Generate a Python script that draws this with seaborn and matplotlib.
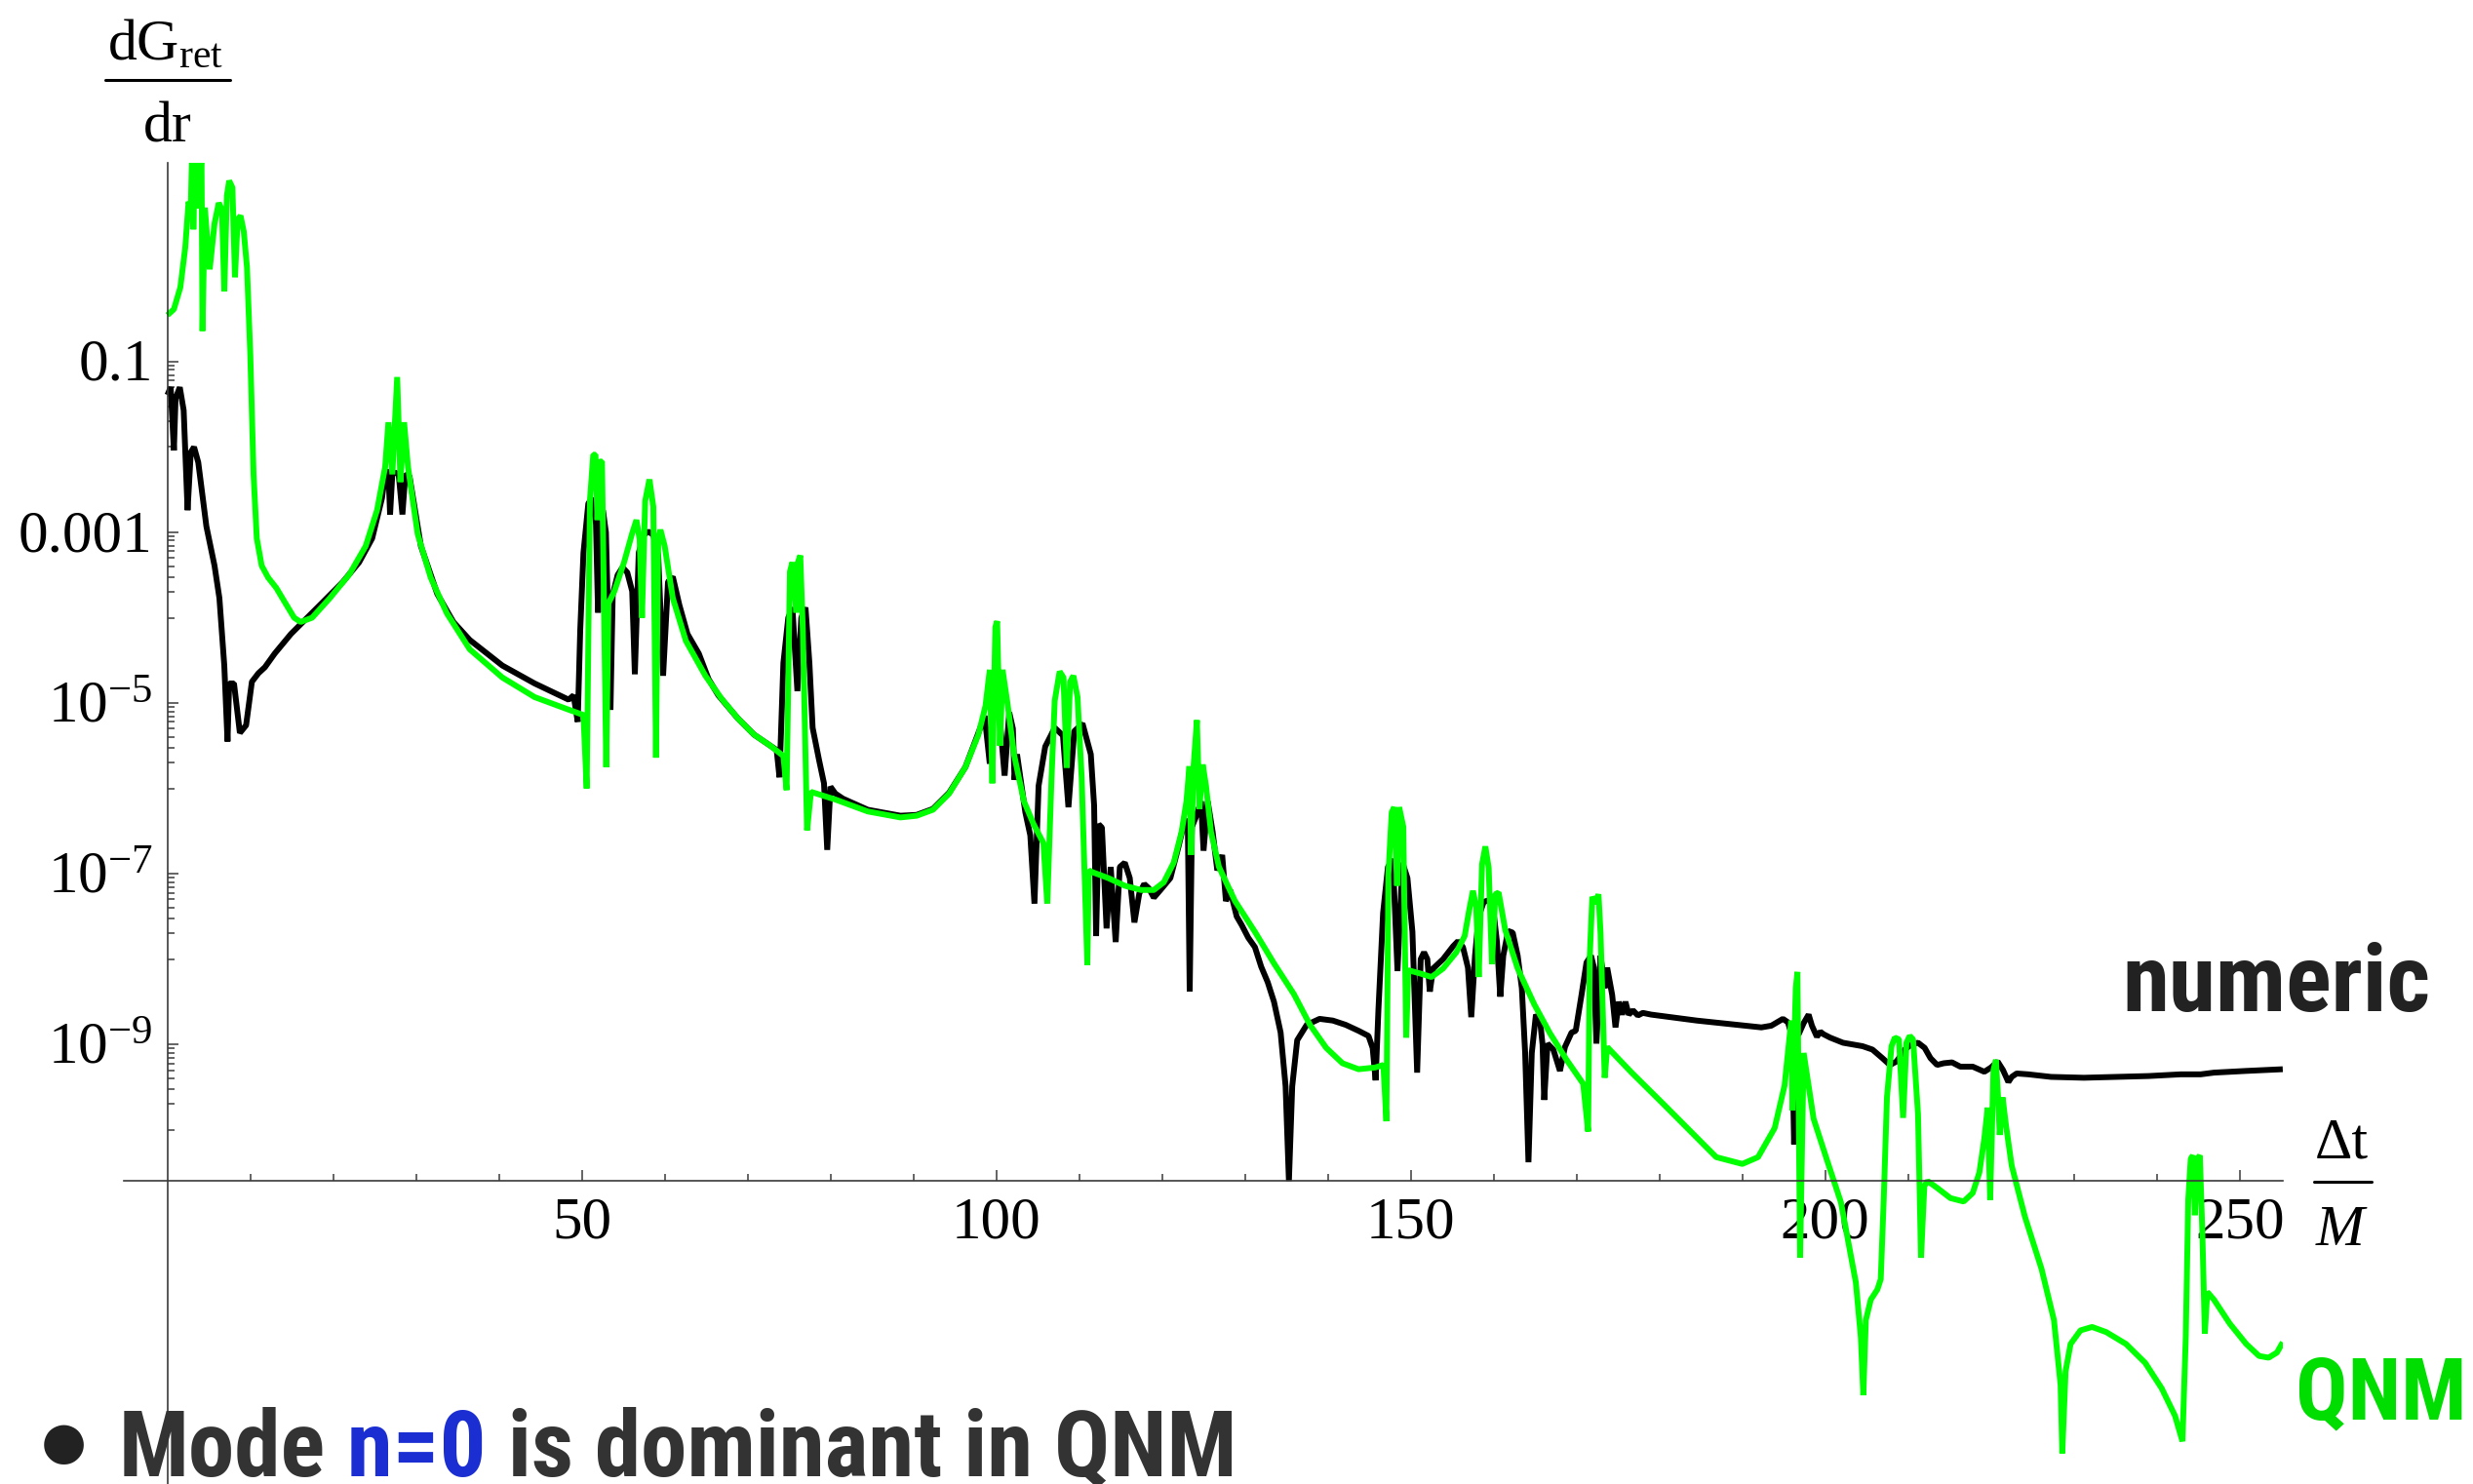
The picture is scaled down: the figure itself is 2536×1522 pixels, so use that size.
import numpy as np
import pandas as pd
import matplotlib
matplotlib.use("Agg")
import matplotlib.pyplot as plt
import seaborn as sns
from matplotlib import font_manager
from matplotlib.lines import Line2D
from matplotlib.ticker import NullFormatter
from matplotlib.transforms import ScaledTranslation

# ---------------- data (time Δt/M, log10 of dG_ret/dr) ----------------
numeric_points = [
    (0.0,-1.39),(0.39,-1.30),(0.78,-2.04),(0.98,-1.43),(1.49,-1.30),(1.96,-1.57),(2.43,-2.74),(2.82,-2.06),(3.21,-2.00),(3.72,-2.18),
    (4.70,-2.93),(5.68,-3.39),(6.27,-3.77),(6.86,-4.56),(7.25,-5.45),(7.45,-4.77),(8.03,-4.77),(8.74,-5.35),(9.49,-5.26),(10.19,-4.75),
    (10.98,-4.65),(11.76,-4.58),(12.94,-4.42),(14.9,-4.19),(16.86,-4.00),(18.82,-3.81),(21.17,-3.58),(23.13,-3.35),(24.7,-3.07),(25.88,-2.60),
    (26.27,-2.32),(26.66,-2.27),(26.86,-2.79),(27.13,-2.32),(27.5,-2.30),(27.9,-2.32),(28.35,-2.79),(28.7,-2.32),(29.2,-2.34),(30.58,-3.16),
    (32.55,-3.72),(34.5,-4.05),(36.47,-4.26),(40.4,-4.56),(44.3,-4.77),(48.4,-4.96),(49.0,-4.91),(49.5,-5.22),(49.8,-4.15),(50.19,-3.24),
    (50.78,-2.66),(51.3,-2.60),(51.7,-2.90),(51.95,-3.94),(52.2,-2.80),(52.54,-2.74),(52.9,-3.00),(53.45,-5.08),(53.72,-3.73),(54.31,-3.50),
    (54.9,-3.41),(55.48,-3.47),(56.07,-3.69),(56.39,-4.66),(56.86,-3.24),(57.45,-3.03),(58.03,-2.99),(58.62,-3.03),(59.21,-3.27),(59.8,-4.68),
    (60.39,-3.58),(60.97,-3.52),(61.76,-3.85),(62.74,-4.19),(64.11,-4.42),(65.29,-4.72),(66.47,-4.91),(68.82,-5.18),(70.78,-5.37),(72.74,-5.50),
    (73.5,-5.55),(73.84,-5.87),(74.31,-4.53),(74.9,-4.00),(75.4,-3.88),(76.0,-4.86),(76.47,-4.00),(76.98,-3.88),(77.45,-4.53),(77.84,-5.29),
    (78.23,-5.48),(78.62,-5.67),(79.21,-5.94),(79.6,-6.72),(79.99,-5.98),(80.58,-6.06),(81.5,-6.12),(84.5,-6.25),(88.43,-6.32),(90.39,-6.31),
    (92.35,-6.24),(94.31,-6.05),(96.27,-5.75),(97.84,-5.35),(98.6,-5.15),(99.21,-5.71),(99.6,-5.05),(100.3,-5.05),(101.0,-5.85),(101.56,-5.11),
    (102.0,-5.30),(102.2,-5.90),(102.5,-5.60),(103.5,-6.28),(104.1,-6.55),(104.6,-7.35),(105.1,-5.97),(105.9,-5.51),(107.05,-5.29),(108.04,-5.38),
    (108.7,-6.22),(109.4,-5.33),(110.4,-5.24),(111.4,-5.60),(111.8,-6.20),(112.04,-7.73),(112.35,-6.42),(112.74,-6.46),(113.3,-7.64),(113.8,-6.92),
    (114.4,-7.80),(114.9,-6.92),(115.5,-6.87),(116.1,-7.05),(116.66,-7.57),(117.25,-7.23),(117.84,-7.12),(118.4,-7.17),(119.0,-7.28),(119.8,-7.19),
    (121.0,-7.05),(121.96,-6.69),(122.74,-6.37),(123.1,-6.40),(123.33,-8.38),(123.6,-6.45),(124.1,-6.33),(124.7,-6.15),(125.0,-6.73),(125.5,-6.15),
    (126.1,-6.51),(126.66,-6.96),(127.25,-6.78),(127.7,-7.32),(128.2,-7.19),(129.0,-7.50),(129.6,-7.60),(130.4,-7.75),(131.2,-7.86),(131.96,-8.09),
    (132.74,-8.27),(133.5,-8.50),(134.3,-8.86),(134.9,-9.49),(135.3,-10.6),(135.7,-9.49),(136.3,-8.95),(137.45,-8.77),(139.0,-8.70),(140.6,-8.72),
    (142.15,-8.77),(143.7,-8.84),(144.9,-8.90),(145.4,-9.04),(145.76,-9.42),(146.1,-8.59),(146.66,-7.46),(147.25,-6.92),(147.84,-6.83),(148.4,-8.14),
    (149.0,-6.87),(149.6,-7.05),(150.2,-7.68),(150.77,-9.33),(151.2,-8.00),(151.6,-7.92),(152.0,-8.00),(152.3,-8.38),(152.7,-8.11),(153.9,-8.00),
    (155.1,-7.85),(155.7,-7.79),(156.3,-7.86),(156.9,-8.10),(157.3,-8.68),(157.75,-7.96),(158.2,-7.50),(158.8,-7.33),(159.4,-7.31),(160.0,-7.46),
    (160.4,-7.80),(160.8,-8.44),(161.16,-7.96),(161.75,-7.67),(162.3,-7.69),(162.9,-7.96),(163.4,-8.34),(163.8,-9.10),(164.2,-10.38),(164.6,-9.10),
    (165.1,-8.65),(165.6,-8.72),(165.9,-9.00),(166.1,-9.65),(166.5,-8.99),(167.2,-9.06),(168.0,-9.31),(168.6,-9.03),(169.4,-8.86),(169.9,-8.84),
    (170.6,-8.42),(171.2,-8.04),(171.75,-7.96),(172.1,-8.10),(172.4,-8.99),(172.9,-7.96),(173.4,-8.34),(173.7,-8.10),(174.3,-8.42),(174.7,-8.80),
    (175.1,-8.50),(175.5,-8.65),(175.9,-8.50),(176.3,-8.65),(176.8,-8.60),(177.4,-8.66),(178.0,-8.63),(179.0,-8.65),(184.5,-8.72),(188.4,-8.76),
    (192.3,-8.80),(193.5,-8.78),(194.9,-8.70),(195.5,-8.74),(196.0,-8.90),(196.25,-10.17),(196.6,-8.90),(196.85,-8.87),(197.4,-8.75),(198.0,-8.65),
    (198.4,-8.78),(199.0,-8.91),(199.4,-8.85),(199.8,-8.88),(200.6,-8.92),(202.15,-8.98),(204.5,-9.02),(205.7,-9.06),(206.9,-9.16),(207.8,-9.24),
    (208.6,-9.20),(209.6,-9.06),(210.4,-9.00),(211.2,-8.98),(212.0,-9.04),(212.7,-9.16),(213.5,-9.24),(214.3,-9.22),(215.3,-9.21),(216.3,-9.26),
    (217.8,-9.26),(219.2,-9.32),(220.0,-9.27),(220.8,-9.20),(221.45,-9.30),(222.1,-9.44),(222.5,-9.38),(223.1,-9.34),(224.5,-9.35),(227.25,-9.38),
    (231.2,-9.39),(235.1,-9.38),(239.0,-9.37),(242.9,-9.35),(245.3,-9.35),(246.9,-9.33),(250.8,-9.31),(255.2,-9.29),
]

qnm_points = [
    (0.0,-0.455),(0.78,-0.385),(1.56,-0.128),(2.15,0.338),(2.55,0.875),(2.82,0.80),(3.0,1.6),(3.13,0.55),(3.35,1.6),(3.55,0.80),
    (3.75,1.6),(3.95,0.80),(4.1,1.6),(4.23,-0.64),(4.51,0.805),(5.1,0.082),(5.68,0.618),(6.19,0.86),(6.58,0.78),(6.86,-0.175),
    (7.17,0.945),(7.45,1.12),(7.84,1.04),(8.15,-0.01),(8.47,0.665),(8.82,0.71),(9.21,0.525),(9.6,0.105),(10.0,-0.92),(10.39,-2.32),
    (10.78,-3.07),(11.37,-3.39),(12.15,-3.53),(13.13,-3.65),(14.11,-3.81),(15.29,-4.00),(16.07,-4.05),(17.45,-4.00),(19.6,-3.77),(21.96,-3.49),
    (23.92,-3.16),(25.29,-2.74),(26.27,-2.23),(26.66,-1.71),(27.13,-2.32),(27.72,-1.18),(28.11,-2.41),(28.55,-1.71),(29.02,-2.23),(30.19,-3.02),
    (31.76,-3.53),(33.72,-3.95),(36.47,-4.37),(40.4,-4.70),(44.3,-4.93),(48.2,-5.07),(50.19,-5.14),(50.58,-6.00),(50.97,-2.63),(51.37,-2.09),
    (51.64,-2.09),(51.88,-2.855),(52.15,-2.17),(52.43,-2.17),(52.94,-5.75),(53.21,-3.83),(53.92,-3.69),(55.09,-3.35),(56.07,-3.01),(56.58,-2.855),
    (56.97,-3.08),(57.25,-4.00),(57.64,-2.63),(58.15,-2.38),(58.62,-2.70),(58.94,-5.64),(59.21,-3.08),(59.48,-2.97),(59.99,-3.16),(60.97,-3.77),
    (62.54,-4.27),(64.9,-4.68),(66.86,-4.95),(68.82,-5.18),(70.78,-5.37),(72.74,-5.50),(74.31,-5.62),(74.7,-6.02),(75.1,-3.46),(75.4,-3.35),
    (75.88,-3.94),(76.07,-3.35),(76.35,-3.27),(76.66,-4.15),(77.17,-6.49),(77.64,-6.04),(80.58,-6.13),(84.5,-6.27),(88.43,-6.34),(90.39,-6.32),
    (92.35,-6.25),(94.31,-6.06),(96.27,-5.75),(97.84,-5.37),(98.7,-5.03),(99.21,-4.61),(99.52,-5.94),(99.88,-4.11),(100.1,-4.04),(100.45,-5.50),
    (100.75,-4.61),(101.37,-5.02),(102.15,-5.61),(103.33,-6.15),(104.5,-6.42),(105.68,-6.64),(106.15,-7.35),(106.66,-5.88),(107.05,-4.97),(107.64,-4.63),
    (108.1,-4.70),(108.5,-5.76),(108.9,-4.75),(109.3,-4.68),(109.8,-4.93),(110.3,-5.88),(110.98,-8.07),(111.17,-6.96),(111.56,-6.98),(113.5,-7.05),
    (115.5,-7.14),(117.45,-7.19),(119.0,-7.19),(120.2,-7.10),(121.4,-6.87),(122.35,-6.51),(122.94,-6.15),(123.3,-5.74),(123.5,-6.78),(123.8,-5.74),
    (124.2,-5.20),(124.5,-6.24),(124.9,-5.72),(125.3,-5.97),(125.9,-6.51),(126.86,-6.92),(128.8,-7.32),(131.2,-7.68),(133.5,-8.05),(135.9,-8.41),
    (137.84,-8.77),(139.8,-9.04),(141.76,-9.22),(143.7,-9.29),(145.7,-9.27),(146.7,-9.24),(147.06,-9.90),(147.3,-7.01),(147.7,-6.28),(148.0,-6.22),
    (148.35,-7.14),(148.6,-6.22),(149.1,-6.45),(149.45,-8.92),(149.7,-8.13),(151.2,-8.17),(152.5,-8.21),(153.9,-8.11),(155.5,-7.92),(156.5,-7.73),
    (157.04,-7.43),(157.5,-7.20),(157.9,-7.39),(158.2,-8.21),(158.6,-6.89),(159.0,-6.68),(159.4,-6.93),(159.8,-8.06),(160.2,-7.24),(160.6,-7.22),
    (161.4,-7.66),(162.9,-8.11),(164.9,-8.53),(166.8,-8.87),(168.8,-9.18),(170.8,-9.46),(171.4,-10.02),(171.6,-7.96),(171.9,-7.27),(172.3,-7.35),
    (172.65,-7.24),(172.9,-7.70),(173.4,-9.39),(173.7,-9.03),(176.65,-9.33),(180.6,-9.71),(184.5,-10.09),(186.85,-10.32),(190.0,-10.40),(191.9,-10.32),
    (193.9,-9.98),(195.1,-9.48),(195.9,-8.72),(196.05,-9.77),(196.45,-8.34),(196.65,-8.15),(196.97,-11.5),(197.4,-9.10),(198.6,-9.87),(200.2,-10.35),
    (201.9,-10.85),(203.7,-11.79),(204.3,-12.43),(204.6,-13.11),(204.9,-12.23),(205.5,-11.99),(206.3,-11.87),(206.7,-11.75),(207.06,-10.82),(207.45,-9.62),
    (208.0,-9.02),(208.4,-8.92),(208.9,-8.94),(209.4,-9.86),(209.8,-8.98),(210.2,-8.90),(210.6,-8.94),(211.2,-9.82),(211.56,-11.5),(211.96,-10.66),
    (212.35,-10.60),(213.5,-10.68),(215.1,-10.80),(216.7,-10.84),(217.8,-10.74),(218.6,-10.50),(219.2,-10.10),(219.6,-9.74),(219.9,-10.82),(220.3,-9.30),
    (220.6,-9.18),(220.9,-9.70),(221.05,-10.06),(221.4,-9.62),(221.8,-9.94),(222.5,-10.42),(224.1,-11.02),(226.1,-11.63),(227.6,-12.23),(228.4,-12.99),
    (228.6,-13.79),(229.0,-12.83),(229.6,-12.51),(230.8,-12.35),(232.2,-12.31),(233.9,-12.37),(236.3,-12.51),(238.6,-12.73),(240.6,-13.03),(242.2,-13.35),
    (243.1,-13.65),(243.5,-12.43),(243.8,-10.82),(244.1,-10.34),(244.35,-10.30),(244.6,-11.00),(244.9,-10.34),(245.2,-10.30),(245.5,-11.20),(245.8,-12.39),
    (246.1,-11.90),(246.9,-11.99),(248.8,-12.27),(250.8,-12.51),(252.35,-12.65),(253.5,-12.67),(254.5,-12.61),(255.2,-12.49),
]

x_major_ticks = [50, 100, 150, 200, 250]
x_minor_ticks = [v for v in range(10, 250, 10) if v % 50]
y_label_exponents = [-1, -3, -5, -7, -9]
y_tick_labels = ["0.1", "0.001", r"$10^{-5}$", r"$10^{-7}$", r"$10^{-9}$"]
series_names = ["numeric", "QNM"]

# ---------------- style ----------------
sns.set_theme(style="white")
plt.rcParams["font.family"] = ["Liberation Serif", "DejaVu Serif"]
plt.rcParams["mathtext.fontset"] = "custom"
plt.rcParams["mathtext.rm"] = "Liberation Serif"
plt.rcParams["mathtext.it"] = "Liberation Serif:italic"
plt.rcParams["mathtext.bf"] = "Liberation Serif:bold"

avail = {f.name for f in font_manager.fontManager.ttflist}
bold_family = None
for cand in ["Liberation Sans Narrow", "Roboto Condensed", "Open Sans Condensed", "DejaVu Sans Condensed"]:
    if cand in avail:
        bold_family = cand
        break
size_scale = 1.0
if bold_family is None:
    bold_family = "Liberation Sans"
    size_scale = 0.84

W, H, DPI = 2536, 1522, 100
fig = plt.figure(figsize=(W / DPI, H / DPI), dpi=DPI)
fig.patch.set_facecolor("white")

def fx(px):
    return px / W

def fy(py):
    return 1 - py / H

px_per_unit = 8.5
x0_px = 171.7
t_min, t_max = -5.2, 255.2
left_px = x0_px + t_min * px_per_unit
right_px = x0_px + t_max * px_per_unit
top_px = 167
log_top, log_bottom = 1.33, -14.15
x_axis_log = -10.6

ax = fig.add_axes([fx(left_px), 0, (right_px - left_px) / W, (H - top_px) / H])
ax.set_facecolor("none")

df_num = pd.DataFrame(numeric_points, columns=["t", "log10"])
df_num["value"] = 10.0 ** df_num["log10"]
df_qnm = pd.DataFrame(qnm_points, columns=["t", "log10"])
df_qnm["value"] = 10.0 ** df_qnm["log10"]

line_kw = dict(sort=False, estimator=None, linewidth=4.3, ax=ax,
               solid_joinstyle="bevel", solid_capstyle="butt")
sns.lineplot(data=df_num, x="t", y="value", color="#000000", **line_kw)
sns.lineplot(data=df_qnm, x="t", y="value", color="#00ff00", **line_kw)

ax.set_yscale("log")
ax.set_xlim(t_min, t_max)
ax.set_ylim(10.0 ** log_bottom, 10.0 ** log_top)
ax.set_xlabel("")
ax.set_ylabel("")
ax.grid(False)

axis_color = "#3a3a3a"
for s in ["top", "right"]:
    ax.spines[s].set_visible(False)
ax.spines["left"].set_position(("data", 0))
ax.spines["bottom"].set_position(("data", 10.0 ** x_axis_log))
for s in ["left", "bottom"]:
    ax.spines[s].set_visible(True)
    ax.spines[s].set_color(axis_color)
    ax.spines[s].set_linewidth(1.2)

ax.set_xticks(x_major_ticks)
ax.set_xticklabels([str(v) for v in x_major_ticks])
ax.set_xticks(x_minor_ticks, minor=True)
ax.set_yticks([10.0 ** k for k in y_label_exponents])
ax.set_yticklabels([""] * len(y_label_exponents))
ax.set_yticks([m * 10.0 ** (k - 1) for k in y_label_exponents for m in range(1, 10)], minor=True)
ax.yaxis.set_minor_formatter(NullFormatter())

ax.tick_params(axis="both", which="major", direction="in", length=7.8, width=1.1, color=axis_color)
ax.tick_params(axis="both", which="minor", direction="in", length=5.2, width=1.1, color=axis_color)
ax.tick_params(axis="x", which="both", bottom=True, top=False)
ax.tick_params(axis="y", which="both", left=True, right=False, labelleft=False)
ax.tick_params(axis="x", which="major", pad=11, labelsize=44, labelcolor="black")

# y tick labels (baseline placed just below each tick)
for k, lab in zip(y_label_exponents, y_tick_labels):
    off = ScaledTranslation(-15 / DPI, -19 / DPI, fig.dpi_scale_trans)
    ax.text(0, 10.0 ** k, lab, transform=ax.transData + off, ha="right", va="baseline",
            fontsize=44, color="black")

# axis fraction labels
fig.text(fx(170), fy(61), r"$\mathrm{dG}_{\mathrm{ret}}$", ha="center", va="baseline", fontsize=43, color="black")
fig.add_artist(Line2D([fx(108), fx(236)], [fy(82), fy(82)], color="black", lw=2.2))
fig.text(fx(172), fy(146), "dr", ha="center", va="baseline", fontsize=43, color="black")

fig.text(fx(2401), fy(1188), "Δt", ha="center", va="baseline", fontsize=43, color="black")
fig.add_artist(Line2D([fx(2373), fx(2432)], [fy(1212), fy(1212)], color="black", lw=2.2))
fig.text(fx(2400), fy(1277), "M", ha="center", va="baseline", fontsize=43, style="italic", color="black")

# series labels
fig.text(fx(2176), fy(1037), series_names[0], ha="left", va="baseline", fontsize=70 * size_scale,
         fontweight="bold", family=[bold_family, "DejaVu Sans"], color="#222222")
fig.text(fx(2354), fy(1455), series_names[1], ha="left", va="baseline", fontsize=64 * size_scale,
         fontweight="bold", family=[bold_family, "DejaVu Sans"], color="#00dd00")

# bullet line
fig.text(fx(65), fy(1483), "●", ha="center", va="center", fontsize=68,
         family=["Liberation Sans", "DejaVu Sans"], color="#222222")
bold_kw = dict(fontsize=68.5 * size_scale, fontweight="bold", family=[bold_family, "DejaVu Sans"])
t1 = fig.text(fx(122), fy(1514), "Mode", ha="left", va="baseline", color="#333333", **bold_kw)
t2 = ax.annotate(" n=0", xy=(1, 0), xycoords=t1, ha="left", va="bottom", color="#1a2ed2",
                 annotation_clip=False, **bold_kw)
t3 = ax.annotate(" is dominant in QNM", xy=(1, 0), xycoords=t2, ha="left", va="bottom",
                 color="#333333", annotation_clip=False, **bold_kw)

fig.savefig("out.png", dpi=DPI, facecolor="white")
